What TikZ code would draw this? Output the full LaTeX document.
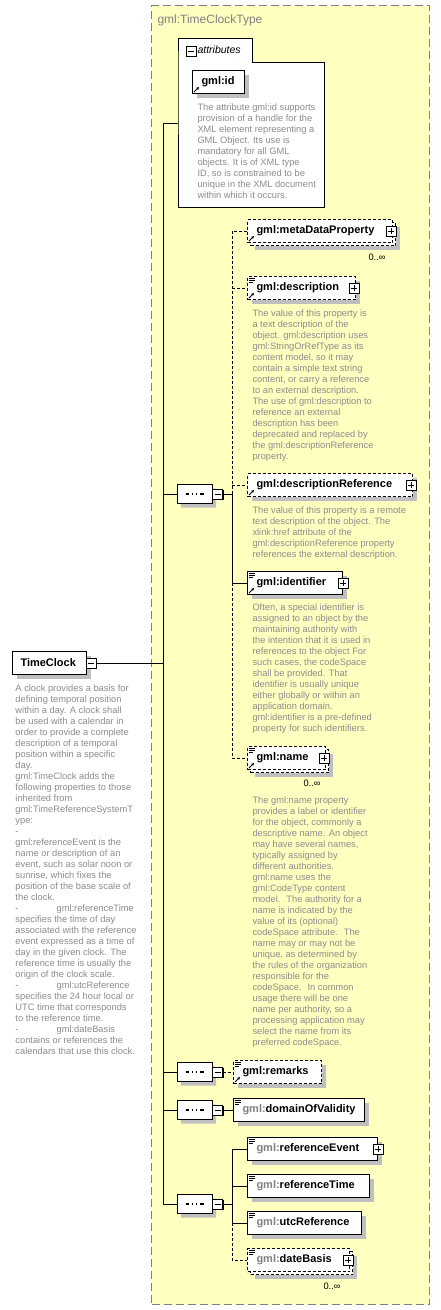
\documentclass[tikz,border=0pt]{standalone}
\usepackage{fontspec}
\setmainfont{Liberation Sans}
\usepackage{tikz}
\usetikzlibrary{arrows.meta,positioning,shapes.misc,shadows,calc}
\definecolor{typefill}{RGB}{255,255,192}
\definecolor{typeline}{RGB}{128,128,128}
\definecolor{doctext}{RGB}{140,140,140}
\newcommand{\namefont}{\fontsize{11}{13}\selectfont\bfseries}
\newcommand{\descfont}{\fontsize{9.3}{11}\selectfont}
\newcommand{\gp}{{\color{typeline}gml:}}
\newcommand{\docmark}[1]{\draw[line width=0.7pt] ([shift={(2pt,-2pt)}]#1.north west) -- +(6pt,0pt)
  ([shift={(2pt,-4pt)}]#1.north west) -- +(6pt,0pt) ([shift={(2pt,-6pt)}]#1.north west) -- +(4pt,0pt);}
\newcommand{\refmark}[1]{\draw[-{Stealth[length=3pt,width=3pt]}, line width=0.9pt] ([shift={(2pt,2pt)}]#1.south west) -- +(5pt,5pt);}

\begin{document}
\begin{tikzpicture}[
    x=1pt, y=-1pt, line width=1pt,
    shade/.style={general shadow={fill=black!25, shadow xshift=4pt, shadow yshift=-4pt}},
    elembox/.style={draw, fill=white, anchor=west, minimum height=23pt, inner xsep=9pt, inner ysep=0pt, align=left, font=\namefont},
    elem/.style={elembox, shade},
    opt/.style={dash pattern=on 3pt off 2pt},
    desc/.style={anchor=north west, inner sep=0pt, align=left, font=\descfont, text=doctext},
    mult/.style={anchor=east, inner sep=0pt, font=\descfont},
    pm/.style={draw, fill=white, line width=0.8pt, minimum size=10pt, inner sep=0pt, general shadow={fill=black, shadow xshift=1pt, shadow yshift=-1pt}},
    plusbox/.style={pm, path picture={\draw[line width=1pt] ([xshift=2pt]path picture bounding box.west) -- ([xshift=-2pt]path picture bounding box.east) ([yshift=-2pt]path picture bounding box.north) -- ([yshift=2pt]path picture bounding box.south);}},
    minusbox/.style={pm, path picture={\draw[line width=1pt] ([xshift=2pt]path picture bounding box.west) -- ([xshift=-2pt]path picture bounding box.east);}},
    seqbox/.style={draw, fill=white, chamfered rectangle, chamfered rectangle xsep=5pt, chamfered rectangle ysep=5pt, minimum width=35pt, minimum height=19pt, inner sep=0pt, shade,
      path picture={\draw[line width=1.2pt] ([xshift=-9pt]path picture bounding box.center) -- ([xshift=9pt]path picture bounding box.center);
        \foreach \d in {-4,0,4} \fill ([xshift=\d pt]path picture bounding box.center) +(-1.6pt,-1.6pt) rectangle +(1.6pt,1.6pt);}}
]
\fill[white] (0,0) rectangle (440,1310);
\useasboundingbox (0,0) rectangle (440,1310);

% complex type
\node[draw=typeline, fill=typefill, dash pattern=on 8pt off 4pt, anchor=north west, minimum width=278pt, minimum height=1299pt, inner sep=0pt] (tbox) at (151,5) {};
\node[anchor=west, inner sep=0pt, font=\fontsize{12}{14}\selectfont, text=typeline] (tname) at (157,20) {gml:TimeClockType};

% attributes
\node[fill=white, anchor=north west, minimum width=73pt, minimum height=24pt, inner sep=0pt] (attrtab) at (178,38) {};
\node[fill=white, anchor=north west, minimum width=145pt, minimum height=144pt, inner sep=0pt] (attrs) at (178,62) {};
\draw (attrtab.south west) |- (attrtab.north east) |- (attrs.north east) |- (attrs.south west) -- cycle;
\node[minusbox] (attrm) at (191,51) {};
\node[anchor=west, inner sep=0pt, font=\fontsize{10.5}{12}\selectfont\itshape] (attrlbl) at (197,50) {attributes};
\node[elem, text width=34pt] (gid) at (192,82) {\mbox{gml:id}};
\refmark{gid}
\node[desc] (giddoc) at (197,103) {The attribute gml:id supports\\provision of a handle for the\\XML element representing a\\GML Object. Its use is\\mandatory for all GML\\objects. It is of XML type\\ID, so is constrained to be\\unique in the XML document\\within which it occurs.};

% root element
\node[elem, inner xsep=8pt, text width=58pt] (tclock) at (12,663) {\mbox{TimeClock}};
\node[minusbox] (tcm) at (91,663) {};
\node[desc] (tcdoc) at (15,684) {A clock provides a basis for\\defining temporal position\\within a day. A clock shall\\be used with a calendar in\\order to provide a complete\\description of a temporal\\position within a specific\\day.\\gml:TimeClock adds the\\following properties to those\\inherited from\\gml:TimeReferenceSystemT\\ype:\\-\\gml:referenceEvent is the\\name or description of an\\event, such as solar noon or\\sunrise, which fixes the\\position of the base scale of\\the clock.\\-\hspace{38pt}gml:referenceTime\\specifies the time of day\\associated with the reference\\event expressed as a time of\\day in the given clock. The\\reference time is usually the\\origin of the clock scale.\\-\hspace{38pt}gml:utcReference\\specifies the 24 hour local or\\UTC time that corresponds\\to the reference time.\\-\hspace{38pt}gml:dateBasis\\contains or references the\\calendars that use this clock.};

% compositors
\node[seqbox] (seq1) at (194.5,494) {};
\node[minusbox] (seq1m) at (217.5,494) {};
\node[seqbox] (seq2) at (194.5,1072) {};
\node[minusbox] (seq2m) at (217.5,1072) {};
\node[seqbox] (seq3) at (194.5,1110) {};
\node[minusbox] (seq3m) at (217.5,1110) {};
\node[seqbox] (seq4) at (194.5,1204) {};
\node[minusbox] (seq4m) at (217.5,1204) {};

% first sequence
\node[elem, opt, text width=127pt] at (250,234) {};
\node[elembox, opt, text width=127pt] (mdp) at (247,231) {\mbox{gml:metaDataProperty}};
\node[plusbox] (mdpp) at ([xshift=-2pt]mdp.east) {};
\refmark{mdp}
\node[mult] (mdpm) at (386,257) {0..∞};

\node[elem, opt, text width=90pt] (descr) at (247,288) {\mbox{gml:description}};
\node[plusbox] (descrp) at ([xshift=-2pt]descr.east) {};
\docmark{descr}\refmark{descr}
\node[desc] (descrdoc) at (252,309) {The value of this property is\\a text description of the\\object. gml:description uses\\gml:StringOrRefType as its\\content model, so it may\\contain a simple text string\\content, or carry a reference\\to an external description.\\The use of gml:description to\\reference an external\\description has been\\deprecated and replaced by\\the gml:descriptionReference\\property.};

\node[elem, opt, text width=147pt] (dref) at (247,485) {\mbox{gml:descriptionReference}};
\node[plusbox] (drefp) at ([xshift=-2pt]dref.east) {};
\refmark{dref}
\node[desc] (drefdoc) at (252,506) {The value of this property is a remote\\text description of the object. The\\xlink:href attribute of the\\gml:descriptionReference property\\references the external description.};

\node[elem, text width=77pt] (ident) at (247,583) {\mbox{gml:identifier}};
\node[plusbox] (identp) at (ident.east) {};
\docmark{ident}\refmark{ident}
\node[desc] (identdoc) at (252,603) {Often, a special identifier is\\assigned to an object by the\\maintaining authority with\\the intention that it is used in\\references to the object For\\such cases, the codeSpace\\shall be provided. That\\identifier is usually unique\\either globally or within an\\application domain.\\gml:identifier is a pre-defined\\property for such identifiers.};

\node[elem, opt, text width=60pt] at (250,761) {};
\node[elembox, opt, text width=60pt] (name) at (247,758) {\mbox{gml:name}};
\node[plusbox] (namep) at ([xshift=-2pt]name.east) {};
\docmark{name}\refmark{name}
\node[mult] (namem) at (321,783) {0..∞};
\node[desc] (namedoc) at (252,796) {The gml:name property\\provides a label or identifier\\for the object, commonly a\\descriptive name. An object\\may have several names,\\typically assigned by\\different authorities.\\gml:name uses the\\gml:CodeType content\\model.~ The authority for a\\name is indicated by the\\value of its (optional)\\codeSpace attribute.~ The\\name may or may not be\\unique, as determined by\\the rules of the organization\\responsible for the\\codeSpace.~ In common\\usage there will be one\\name per authority, so a\\processing application may\\select the name from its\\preferred codeSpace.};

% second and third sequence
\node[elem, opt, text width=70pt] (remarks) at (233,1072) {\mbox{gml:remarks}};
\docmark{remarks}\refmark{remarks}
\node[elem, text width=113pt] (dov) at (233,1110) {\mbox{\gp domainOfValidity}};
\docmark{dov}

% fourth sequence
\node[elem, text width=112pt] (revent) at (247,1149) {\mbox{\gp referenceEvent}};
\node[plusbox] (reventp) at (revent.east) {};
\docmark{revent}
\node[elem, text width=104pt] (rtime) at (247,1186) {\mbox{\gp referenceTime}};
\docmark{rtime}
\node[elem, text width=96pt] (utc) at (247,1223) {\mbox{\gp utcReference}};
\docmark{utc}
\node[elem, opt, text width=84pt] at (250,1263) {};
\node[elembox, opt, text width=84pt] (dbasis) at (247,1260) {\mbox{\gp dateBasis}};
\node[plusbox] (dbasisp) at ([xshift=-2pt]dbasis.east) {};
\docmark{dbasis}
\node[mult] (dbasism) at (341,1286) {0..∞};

% connectors
\coordinate (trunk) at (163,123);
\coordinate (br1) at (232,494);
\coordinate (br4) at (232,1204);
\draw (tcm.east) -- (tcm.east -| trunk);
\draw (trunk) -- (trunk |- seq4.west);
\draw (trunk) -- (trunk -| attrs.west);
\draw (trunk |- seq1.west) -- (seq1.west);
\draw (trunk |- seq2.west) -- (seq2.west);
\draw (trunk |- seq3.west) -- (seq3.west);
\draw (trunk |- seq4.west) -- (seq4.west);

\draw (seq1m.east) -- (br1);
\draw[opt] (br1) -- (br1 |- mdp.west) -- (mdp.west);
\draw[opt] (br1 |- descr.west) -- (descr.west);
\draw[opt] (br1 |- dref.west) -- (dref.west);
\draw (br1) -- (br1 |- ident.west) -- (ident.west);
\draw[opt] (br1 |- ident.west) -- (br1 |- name.west) -- (name.west);

\draw[opt] (seq2m.east) -- (remarks.west);
\draw (seq3m.east) -- (dov.west);

\draw (seq4m.east) -- (br4);
\draw (br4) -- (br4 |- revent.west) -- (revent.west);
\draw (br4 |- rtime.west) -- (rtime.west);
\draw (br4) -- (br4 |- utc.west) -- (utc.west);
\draw[opt] (br4 |- utc.west) -- (br4 |- dbasis.west) -- (dbasis.west);
\end{tikzpicture}
\end{document}
